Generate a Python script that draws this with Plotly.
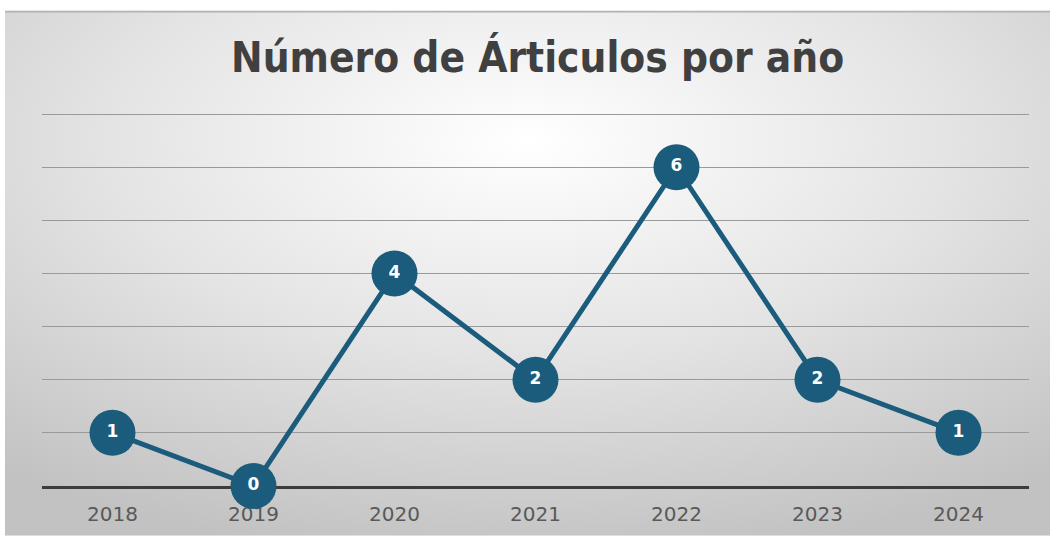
import plotly.graph_objects as go
import base64

years = ["2018", "2019", "2020", "2021", "2022", "2023", "2024"]
counts = [1, 0, 4, 2, 6, 2, 1]
title_text = "Número de Árticulos por año"

W, H = 1050, 538
L, R, T, B = 42, 21, 113, 50
pw, ph = W - L - R, H - T - B

svg = """<svg xmlns='http://www.w3.org/2000/svg' width='1045' height='528' viewBox='0 0 1045 528' preserveAspectRatio='none'>
<defs><radialGradient id='g' cx='50%' cy='25%' r='80%'>
<stop offset='0' stop-color='#ffffff'/><stop offset='0.5' stop-color='#e4e4e4'/><stop offset='1' stop-color='#c2c2c2'/></radialGradient></defs>
<rect width='1045' height='528' fill='url(#g)'/>
<rect x='0' y='0' width='1045' height='2' fill='#b4b4b4'/>
</svg>"""
src = "data:image/svg+xml;base64," + base64.b64encode(svg.encode()).decode()

color = "#1b5b7c"

fig = go.Figure()
fig.add_trace(go.Scatter(
    x=years, y=counts, mode="lines+markers+text",
    line=dict(color=color, width=5),
    marker=dict(size=46, color=color, line=dict(width=0)),
    text=[str(v) for v in counts], textposition="middle center",
    textfont=dict(color="white", size=17, family="DejaVu Sans, Verdana, sans-serif", weight="bold"),
    cliponaxis=False, hoverinfo="skip",
))

fig.update_layout(
    width=W, height=H,
    margin=dict(l=L, r=R, t=T, b=B),
    paper_bgcolor="white", plot_bgcolor="rgba(0,0,0,0)",
    showlegend=False,
    title=dict(text=title_text, x=0.512, xanchor="center", y=1 - 57 / H, yanchor="middle",
               font=dict(family="DejaVu Sans Condensed, Liberation Sans Narrow, sans-serif", size=42,
                         color="#404040", weight="bold")),
    images=[dict(source=src, xref="paper", yref="paper",
                 x=(5 - L) / pw, y=(H - B - 10) / ph, sizex=1045 / pw, sizey=528 / ph,
                 xanchor="left", yanchor="top", sizing="stretch", layer="below")],
    xaxis=dict(range=[-0.5, 6.5], showgrid=False, showline=True, linecolor="#3c3c3c", linewidth=3,
               ticks="outside", ticklen=8, tickcolor="rgba(0,0,0,0)", layer="below traces",
               tickfont=dict(family="DejaVu Sans, Verdana, sans-serif", size=20, color="#595959"),
               zeroline=False, fixedrange=True),
    yaxis=dict(range=[0, 7.02], dtick=1, showgrid=True, gridcolor="#9a9a9a", gridwidth=1.3,
               showticklabels=False, zeroline=False, showline=False, fixedrange=True,
               layer="below traces"),
)

fig.write_html("out.html")
